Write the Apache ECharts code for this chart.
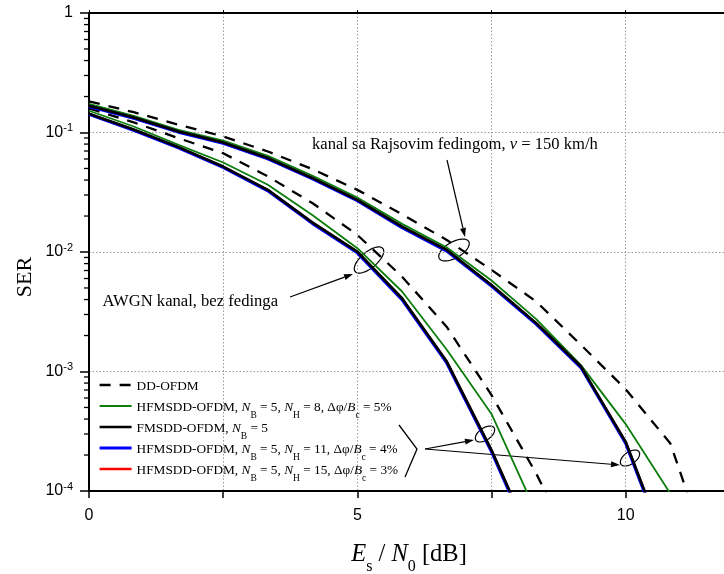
<!DOCTYPE html>
<html><head><meta charset="utf-8">
<script src="https://cdn.jsdelivr.net/npm/echarts@6/dist/echarts.min.js"></script>
<style>html,body{margin:0;padding:0;background:#fff}#c{width:724px;height:574px}</style>
</head><body><div id="c"></div>
<script>
// Es/N0 [dB] sample points
const snr = [0, 0.833, 1.667, 2.5, 3.333, 4.167, 5, 5.833, 6.667, 7.5, 8.333, 9.167, 10, 10.833, 11.667];

// AWGN channel (no fading)
const awgnDD  = [0.159, 0.1216, 0.0897, 0.0671, 0.0429, 0.0256, 0.0139, 0.00622, 0.00236, 0.000635, 0.000140, 0.000025];
const awgnH8  = [0.152, 0.1122, 0.0789, 0.0561, 0.0365, 0.0203, 0.01076, 0.00467, 0.00152, 0.000441, 0.000066];
const awgnF   = [0.1436, 0.1059, 0.0755, 0.0519, 0.0331, 0.0176, 0.01007, 0.0041, 0.00121, 0.00022, 0.0000316];
const awgnH11 = [0.1420, 0.1045, 0.0744, 0.0511, 0.0325, 0.0173, 0.00985, 0.00400, 0.00118, 0.000214, 0.0000305];
const awgnH15 = [0.1430, 0.1052, 0.0750, 0.0515, 0.0328, 0.0175, 0.00996, 0.00405, 0.00120, 0.000217, 0.000031];

// Rayleigh fading channel, v = 150 km/h
const rayDD  = [0.182, 0.148, 0.116, 0.0927, 0.0693, 0.0493, 0.0331, 0.0207, 0.0126, 0.00708, 0.00385, 0.00167, 0.00071, 0.00025, 0.00002];
const rayH8  = [0.1738, 0.138, 0.1054, 0.0857, 0.0638, 0.0434, 0.0286, 0.0172, 0.0109, 0.00577, 0.00274, 0.00113, 0.000363, 0.000095];
const rayF   = [0.1675, 0.1334, 0.1021, 0.0824, 0.0611, 0.0415, 0.0273, 0.0163, 0.0104, 0.0053, 0.00254, 0.0011, 0.000258, 0.0000275];
const rayH11 = [0.1655, 0.1318, 0.1008, 0.0814, 0.0603, 0.0409, 0.0269, 0.0160, 0.0102, 0.0052, 0.00249, 0.00108, 0.000251, 0.0000265];
const rayH15 = [0.1665, 0.1326, 0.1015, 0.0819, 0.0607, 0.0412, 0.0271, 0.0162, 0.0103, 0.00526, 0.00252, 0.00109, 0.000255, 0.000027];

// tick labels
const xTickLabels = [0, 5, 10];
const yMinorTicks = [2e-4,3e-4,4e-4,5e-4,6e-4,7e-4,8e-4,9e-4, 2e-3,3e-3,4e-3,5e-3,6e-3,7e-3,8e-3,9e-3,
                     2e-2,3e-2,4e-2,5e-2,6e-2,7e-2,8e-2,9e-2, 0.2,0.3,0.4,0.5,0.6,0.7,0.8,0.9];

const legendNames = ['DD', 'H8', 'F', 'H11', 'H15'];
const legendLabels = {
  DD:  '{n|DD-OFDM}{s| }',
  H8:  '{n|HFMSDD-OFDM, }{i|N}{s|B}{n| = 5, }{i|N}{s|H}{n| = 8, Δφ/}{i|B}{s|c}{n| = 5%}',
  F:   '{n|FMSDD-OFDM, }{i|N}{s|B}{n| = 5}',
  H11: '{n|HFMSDD-OFDM, }{i|N}{s|B}{n| = 5, }{i|N}{s|H}{n| = 11, Δφ/}{i|B}{s|c}{n| = 4%}',
  H15: '{n|HFMSDD-OFDM, }{i|N}{s|B}{n| = 5, }{i|N}{s|H}{n| = 15, Δφ/}{i|B}{s|c}{n| = 3%}'
};

const SERIF = 'Liberation Serif, Times New Roman, serif';
const SANS = 'Liberation Sans, Arial, sans-serif';

function pairs(ys) { return ys.map((y, i) => [snr[i], y]); }

const styles = {
  DD:  {color: '#000000', width: 2.3, type: [11, 9]},
  H8:  {color: '#0b7d0b', width: 1.8, type: 'solid'},
  F:   {color: '#000000', width: 2.6, type: 'solid'},
  H11: {color: '#0000ff', width: 3.2, type: 'solid'},
  H15: {color: '#ff0000', width: 2.6, type: 'solid'}
};
function lineSeries(name, ys) {
  const s = styles[name];
  return {
    name: name, type: 'line', data: pairs(ys), symbol: 'none', showSymbol: false,
    silent: true, clip: true,
    lineStyle: {color: s.color, width: s.width, type: s.type, cap: 'butt', join: 'round'},
    itemStyle: {color: s.color}
  };
}

// annotation helpers
function arrow(x1, y1, x2, y2) {
  const a = Math.atan2(y2 - y1, x2 - x1), L = 9, W = 3;
  const bx = x2 - L * Math.cos(a), by = y2 - L * Math.sin(a);
  return [
    {type: 'line', shape: {x1: x1, y1: y1, x2: bx, y2: by}, style: {stroke: '#000', lineWidth: 1.2}},
    {type: 'polygon', shape: {points: [[x2, y2], [bx + W * Math.sin(a), by - W * Math.cos(a)], [bx - W * Math.sin(a), by + W * Math.cos(a)]]},
     style: {fill: '#000'}}
  ];
}
function ellipse(cx, cy, rx, ry, deg) {
  const r = deg * Math.PI / 180, pts = [];
  for (let k = 0; k < 48; k++) {
    const t = k / 48 * Math.PI * 2;
    const ex = rx * Math.cos(t), ey = ry * Math.sin(t);
    pts.push([cx + ex * Math.cos(r) - ey * Math.sin(r), cy + ex * Math.sin(r) + ey * Math.cos(r)]);
  }
  return {type: 'polygon', shape: {points: pts}, style: {fill: 'none', stroke: '#000', lineWidth: 1.2}};
}

const graphics = [].concat(
  [
    {type: 'text', x: 312, y: 145, style: {text: 'kanal sa Rajsovim fedingom, {i|v} = 150 km/h', font: '16.6px ' + SERIF,
      fill: '#000', textAlign: 'left', textVerticalAlign: 'middle',
      rich: {i: {fontStyle: 'italic', fontFamily: SERIF, fontSize: 16.6}}}},
    {type: 'text', x: 278, y: 302, style: {text: 'AWGN kanal, bez fedinga', font: '16.6px ' + SERIF,
      fill: '#000', textAlign: 'right', textVerticalAlign: 'middle'}},
    {type: 'text', x: 25, y: 277, rotation: Math.PI / 2, style: {text: 'SER', font: '22px ' + SERIF,
      fill: '#000', textAlign: 'center', textVerticalAlign: 'middle'}},
    {type: 'text', x: 409, y: 555, style: {text: '{i|E}{sub|s}{n| / }{i|N}{sub|0}{n| [dB]}', fill: '#000',
      textAlign: 'center', textVerticalAlign: 'middle',
      rich: {
        i: {fontStyle: 'italic', fontFamily: SERIF, fontSize: 24.5, lineHeight: 25},
        n: {fontFamily: SERIF, fontSize: 24.5, lineHeight: 25},
        sub: {fontFamily: SERIF, fontSize: 16, lineHeight: 16, padding: [24, 0, 0, 0]}
      }}},
    ellipse(454, 250, 17, 8, -30),
    ellipse(369, 260, 18, 8, -40),
    ellipse(485, 434, 11, 6, -35),
    ellipse(630, 458, 11, 6, -35),
    {type: 'polyline', shape: {points: [[399, 425], [417, 449], [405, 477]]}, style: {stroke: '#000', lineWidth: 1.3, fill: 'none'}}
  ],
  arrow(447, 160, 465, 237),
  arrow(290, 297, 353, 274),
  arrow(425, 449, 474, 440),
  arrow(425, 449, 620, 465)
);

const legendData = legendNames.map(n => ({
  name: n,
  itemStyle: {opacity: 0},
  lineStyle: {color: styles[n].color, width: styles[n].width, type: styles[n].type, cap: 'butt', opacity: 1}
}));

const option = {
  animation: false,
  backgroundColor: '#ffffff',
  grid: {left: 89, top: 13, width: 644, height: 478, containLabel: false, outerBoundsMode: 'none'},
  legend: {
    data: legendData, orient: 'vertical', left: 98, top: 377, itemWidth: 32, itemHeight: 14, itemGap: -1,
    formatter: n => legendLabels[n],
    itemStyle: {opacity: 0},
    textStyle: {fontFamily: SERIF, fontSize: 13.3, color: '#000',
      rich: {
        n: {fontFamily: SERIF, fontSize: 13.3, lineHeight: 16, verticalAlign: 'top', padding: [3, 0, 0, 0]},
        i: {fontStyle: 'italic', fontFamily: SERIF, fontSize: 13.3, lineHeight: 16, verticalAlign: 'top', padding: [3, 0, 0, 0]},
        s: {fontFamily: SERIF, fontSize: 9.5, lineHeight: 10, verticalAlign: 'top', padding: [12, 0, 0, 0]}
      }},
    backgroundColor: 'transparent', padding: 0
  },
  xAxis: [{
    type: 'value', min: 0, max: 12, interval: 2.5, position: 'bottom',
    axisLine: {show: true, onZero: false, lineStyle: {color: '#000', width: 2}},
    axisTick: {show: true, inside: false, length: 7, lineStyle: {color: '#000', width: 1.5}},
    axisLabel: {margin: 17, fontFamily: SANS, fontSize: 16, color: '#000',
      formatter: v => (xTickLabels.indexOf(v) >= 0 ? String(v) : '')},
    splitLine: {show: true, lineStyle: {color: '#9a9a9a', width: 1, type: [1.5, 2]}}
  }, {
    type: 'value', min: 0, max: 12, interval: 2.5, position: 'top',
    axisLine: {show: true, onZero: false, lineStyle: {color: '#000', width: 2}},
    axisTick: {show: true, inside: false, length: 3, lineStyle: {color: '#000', width: 1}},
    axisLabel: {show: false}, splitLine: {show: false}
  }],
  yAxis: {
    type: 'log', logBase: 10, min: 1e-4, max: 1, splitNumber: 4,
    axisLine: {show: true, onZero: false, lineStyle: {color: '#000', width: 2}},
    axisTick: {show: true, inside: false, length: 9, lineStyle: {color: '#000', width: 1.5}},
    axisLabel: {margin: 16, color: '#000', fontFamily: SANS, fontSize: 16,
      formatter: v => (v >= 0.999 ? '{b|1}' : '{b|10}{sup|' + Math.round(Math.log10(v)) + '}'),
      rich: {
        b: {fontFamily: SANS, fontSize: 16, lineHeight: 20},
        sup: {fontFamily: SANS, fontSize: 11, lineHeight: 11, verticalAlign: 'top'}
      }},
    splitLine: {show: true, lineStyle: {color: '#9a9a9a', width: 1, type: [1.5, 2]}}
  },
  series: [
    lineSeries('DD', awgnDD), lineSeries('DD', rayDD),
    lineSeries('H8', awgnH8), lineSeries('H8', rayH8),
    lineSeries('H15', awgnH15), lineSeries('H15', rayH15),
    lineSeries('H11', awgnH11), lineSeries('H11', rayH11),
    lineSeries('F', awgnF), lineSeries('F', rayF),
    {
      type: 'custom', silent: true, clip: false, z: 10,
      data: yMinorTicks.map(v => [0, v]),
      renderItem: (params, api) => {
        const c = api.coord([0, api.value(1)]);
        return {type: 'line', shape: {x1: c[0] - 5, y1: c[1], x2: c[0], y2: c[1]}, style: {stroke: '#000', lineWidth: 1.3}};
      }
    }
  ],
  graphic: graphics
};

const chart = echarts.init(document.getElementById('c'));
chart.setOption(option);
</script>
</body></html>
